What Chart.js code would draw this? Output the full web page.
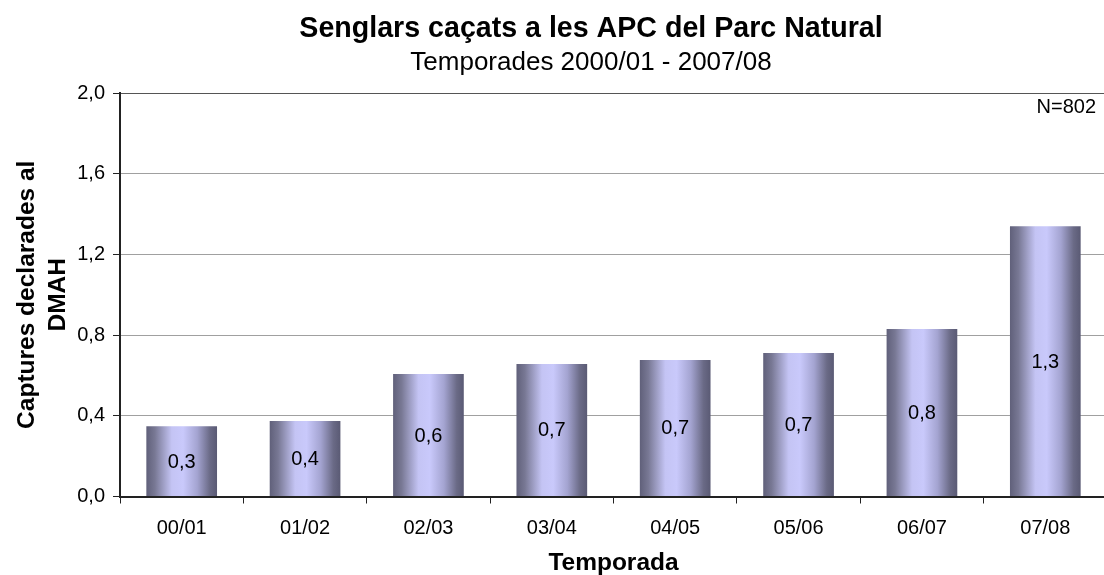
<!DOCTYPE html>
<html>
<head>
<meta charset="utf-8">
<script src="https://cdn.jsdelivr.net/npm/chart.js@4/dist/chart.umd.min.js"></script>
<style>
  html, body { margin: 0; padding: 0; background: #ffffff; overflow: hidden; }
  #wrap { position: relative; width: 1108px; height: 575px; }
</style>
</head>
<body>
<div id="wrap"><canvas id="c" width="1108" height="575"></canvas></div>
<script>
const categories = ['00/01', '01/02', '02/03', '03/04', '04/05', '05/06', '06/07', '07/08'];
const captures = [0.348, 0.374, 0.607, 0.657, 0.677, 0.711, 0.830, 1.340];
const yTicks = [0, 0.4, 0.8, 1.2, 1.6, 2.0];
const titleText = 'Senglars caçats a les APC del Parc Natural';
const subtitleText = 'Temporades 2000/01 - 2007/08';
const yTitleLines = ['Captures declarades al', 'DMAH'];
const xTitleText = 'Temporada';
const noteText = 'N=802';

const FONT = "'Liberation Sans', Arial, Helvetica, sans-serif";
const fmt = v => v.toFixed(1).replace('.', ',');

const gradientBars = {
  id: 'gradientBars',
  beforeDatasetsDraw(chart) {
    const ctx = chart.ctx;
    chart.getDatasetMeta(0).data.forEach(el => {
      const half = el.width / 2;
      const g = ctx.createLinearGradient(el.x - half, 0, el.x + half, 0);
      g.addColorStop(0.00, '#60607a');
      g.addColorStop(0.12, '#787894');
      g.addColorStop(0.36, '#c4c4f4');
      g.addColorStop(0.52, '#c9c9fb');
      g.addColorStop(0.72, '#a4a4d1');
      g.addColorStop(0.90, '#6a6a86');
      g.addColorStop(1.00, '#5a5a74');
      el.options = Object.assign({}, el.options, { backgroundColor: g });
    });
  }
};

const barLabels = {
  id: 'barLabels',
  afterDatasetsDraw(chart) {
    const ctx = chart.ctx;
    const ds = chart.data.datasets[0];
    ctx.save();
    ctx.font = '20px ' + FONT;
    ctx.fillStyle = '#000000';
    ctx.textAlign = 'center';
    ctx.textBaseline = 'middle';
    chart.getDatasetMeta(0).data.forEach((el, i) => {
      ctx.fillText(fmt(ds.data[i]), el.x, (el.y + el.base) / 2 + 1);
    });
    ctx.restore();
  }
};

const texts = {
  id: 'texts',
  afterDraw(chart) {
    const ctx = chart.ctx;
    const a = chart.chartArea;
    ctx.save();
    ctx.fillStyle = '#000000';
    ctx.textAlign = 'center';
    ctx.textBaseline = 'alphabetic';
    const cx = 591;
    ctx.font = 'bold 28.6px ' + FONT;
    ctx.fillText(titleText, cx, 37);
    ctx.font = '26px ' + FONT;
    ctx.fillText(subtitleText, cx, 70);
    ctx.font = '20px ' + FONT;
    ctx.textAlign = 'right';
    ctx.fillText(noteText, 1096, a.top + 20);
    ctx.restore();
  }
};

new Chart(document.getElementById('c'), {
  type: 'bar',
  data: {
    labels: categories,
    datasets: [{
      data: captures,
      backgroundColor: '#9a9ac8',
      borderWidth: 0,
      barPercentage: 0.573,
      categoryPercentage: 1.0
    }]
  },
  options: {
    responsive: false,
    animation: false,
    devicePixelRatio: 1,
    layout: { padding: { top: 93, left: 10, right: 1, bottom: 0 } },
    plugins: {
      legend: { display: false },
      tooltip: { enabled: false },
      title: { display: false }
    },
    scales: {
      x: {
        offset: true,
        afterFit(scale) { scale.height = 575 - 496.5; },
        grid: {
          offset: true,
          drawOnChartArea: false,
          drawTicks: true,
          tickLength: 7,
          color: '#222222'
        },
        border: { color: '#222222', width: 2 },
        ticks: {
          font: { family: FONT, size: 20 },
          color: '#000000',
          padding: 13,
          maxRotation: 0
        },
        title: {
          display: true,
          text: xTitleText,
          font: { family: FONT, size: 24.5, weight: 'bold', lineHeight: 1.0 },
          color: '#000000',
          padding: { top: 0, bottom: 0 }
        }
      },
      y: {
        min: 0,
        max: 2.0,
        afterFit(scale) { scale.width = 110; },
        afterBuildTicks(scale) {
          scale.ticks = yTicks.map(v => ({ value: v }));
        },
        grid: {
          color: ctx => (ctx.tick && ctx.tick.value === 2 ? '#555555' : '#a0a0a0'),
          lineWidth: 1,
          drawTicks: true,
          tickLength: 7,
          tickColor: '#222222'
        },
        border: { color: '#222222', width: 2 },
        ticks: {
          font: { family: FONT, size: 20 },
          color: '#000000',
          padding: 8,
          callback: v => fmt(v)
        },
        title: {
          display: true,
          text: yTitleLines,
          font: { family: FONT, size: 24.5, weight: 'bold', lineHeight: 1.25 },
          color: '#000000',
          padding: { top: 2, bottom: 0 }
        }
      }
    }
  },
  plugins: [gradientBars, barLabels, texts]
});
</script>
</body>
</html>
